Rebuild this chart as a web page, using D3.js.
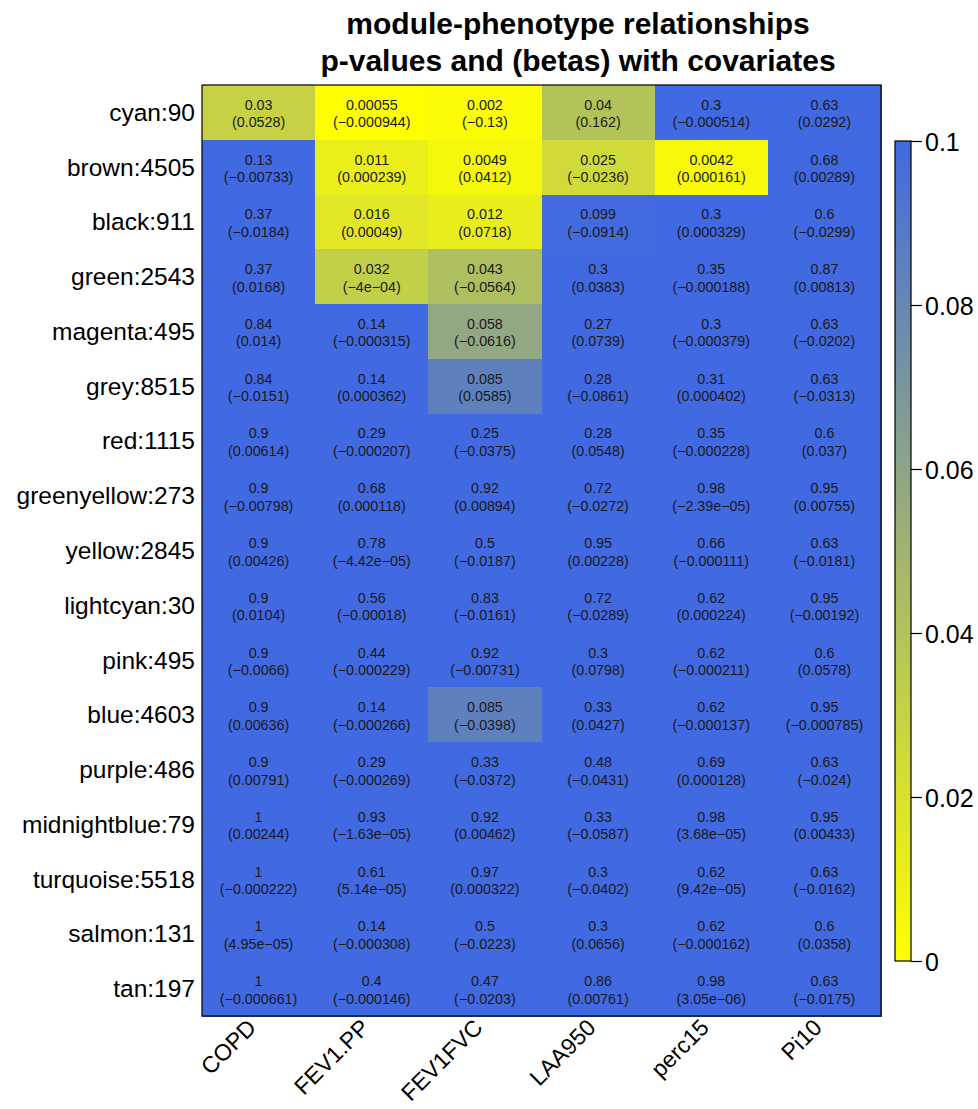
<!DOCTYPE html>
<html><head><meta charset="utf-8">
<script src="https://cdn.jsdelivr.net/npm/d3@7/dist/d3.min.js"></script>
<style>body{margin:0;background:#fff}svg{display:block}text{font-family:"Liberation Sans",Arial,sans-serif}</style>
</head><body><svg id="c" width="978" height="1109"></svg>
<script>
const modules = ["cyan:90","brown:4505","black:911","green:2543","magenta:495","grey:8515","red:1115","greenyellow:273","yellow:2845","lightcyan:30","pink:495","blue:4603","purple:486","midnightblue:79","turquoise:5518","salmon:131","tan:197"];
const traits = ["COPD","FEV1.PP","FEV1FVC","LAA950","perc15","Pi10"];
const pvals = [
 ["0.03","0.00055","0.002","0.04","0.3","0.63"],
 ["0.13","0.011","0.0049","0.025","0.0042","0.68"],
 ["0.37","0.016","0.012","0.099","0.3","0.6"],
 ["0.37","0.032","0.043","0.3","0.35","0.87"],
 ["0.84","0.14","0.058","0.27","0.3","0.63"],
 ["0.84","0.14","0.085","0.28","0.31","0.63"],
 ["0.9","0.29","0.25","0.28","0.35","0.6"],
 ["0.9","0.68","0.92","0.72","0.98","0.95"],
 ["0.9","0.78","0.5","0.95","0.66","0.63"],
 ["0.9","0.56","0.83","0.72","0.62","0.95"],
 ["0.9","0.44","0.92","0.3","0.62","0.6"],
 ["0.9","0.14","0.085","0.33","0.62","0.95"],
 ["0.9","0.29","0.33","0.48","0.69","0.63"],
 ["1","0.93","0.92","0.33","0.98","0.95"],
 ["1","0.61","0.97","0.3","0.62","0.63"],
 ["1","0.14","0.5","0.3","0.62","0.6"],
 ["1","0.4","0.47","0.86","0.98","0.63"]
];
const betas = [
 ["0.0528","−0.000944","−0.13","0.162","−0.000514","0.0292"],
 ["−0.00733","0.000239","0.0412","−0.0236","0.000161","0.00289"],
 ["−0.0184","0.00049","0.0718","−0.0914","0.000329","−0.0299"],
 ["0.0168","−4e−04","−0.0564","0.0383","−0.000188","0.00813"],
 ["0.014","−0.000315","−0.0616","0.0739","−0.000379","−0.0202"],
 ["−0.0151","0.000362","0.0585","−0.0861","0.000402","−0.0313"],
 ["0.00614","−0.000207","−0.0375","0.0548","−0.000228","0.037"],
 ["−0.00798","0.000118","0.00894","−0.0272","−2.39e−05","0.00755"],
 ["0.00426","−4.42e−05","−0.0187","0.00228","−0.000111","−0.0181"],
 ["0.0104","−0.00018","−0.0161","−0.0289","0.000224","−0.00192"],
 ["−0.0066","−0.000229","−0.00731","0.0798","−0.000211","0.0578"],
 ["0.00636","−0.000266","−0.0398","0.0427","−0.000137","−0.000785"],
 ["0.00791","−0.000269","−0.0372","−0.0431","0.000128","−0.024"],
 ["0.00244","−1.63e−05","0.00462","−0.0587","3.68e−05","0.00433"],
 ["−0.000222","5.14e−05","0.000322","−0.0402","9.42e−05","−0.0162"],
 ["4.95e−05","−0.000308","−0.0223","0.0656","−0.000162","0.0358"],
 ["−0.000661","−0.000146","−0.0203","0.00761","3.05e−06","−0.0175"]
];
const legendTicks = [0, 0.02, 0.04, 0.06, 0.08, 0.1];
const titleLines = ["module-phenotype relationships","p-values and (betas) with covariates"];

(function(){
const svg = d3.select("#c");
const pL = 202, pR = 881, pT = 85, pB = 1016;
const x = d3.scaleBand().domain(traits).range([pL, pR]);
const y = d3.scaleBand().domain(modules).range([pT, pB]);
const color = d3.scaleLinear().domain([0, 0.1]).range(["#ffff00", "#4169e1"]).clamp(true);

const cells = [];
modules.forEach((m, i) => traits.forEach((t, j) => cells.push({m, t, p: pvals[i][j], b: betas[i][j]})));

const g = svg.append("g");
g.selectAll("rect.cell").data(cells).join("rect").attr("class","cell")
  .attr("x", d => Math.round(x(d.t))).attr("y", d => Math.round(y(d.m)))
  .attr("width", d => Math.round(x(d.t)+x.bandwidth()) - Math.round(x(d.t)) + 1)
  .attr("height", d => Math.round(y(d.m)+y.bandwidth()) - Math.round(y(d.m)) + 1)
  .attr("shape-rendering","crispEdges")
  .attr("fill", d => color(+d.p));
const tg = g.selectAll("g.lab").data(cells).join("g").attr("class","lab")
  .attr("transform", d => `translate(${x(d.t)+x.bandwidth()/2},${y(d.m)+y.bandwidth()/2})`);
tg.append("text").attr("text-anchor","middle").attr("y",-2.5).attr("font-size",14.3).attr("fill","#1a1a1a").text(d => d.p);
tg.append("text").attr("text-anchor","middle").attr("y",15).attr("font-size",14.3).attr("fill","#1a1a1a").text(d => "(" + d.b + ")");
g.append("rect").attr("x",pL).attr("y",pT).attr("width",pR-pL).attr("height",pB-pT)
  .attr("fill","none").attr("stroke","#000").attr("stroke-width",1.2);

svg.append("g").selectAll("text").data(modules).join("text")
  .attr("x", pL - 7).attr("y", d => y(d) + y.bandwidth()/2 + 8.5)
  .attr("text-anchor","end").attr("font-size",24.5).attr("fill","#000").text(d => d);

svg.append("g").selectAll("text").data(traits).join("text")
  .attr("transform", d => `translate(${x(d)+x.bandwidth()/2-1},${pB+13}) rotate(-45)`)
  .attr("text-anchor","end").attr("font-size",23).attr("fill","#000").text(d => d);

svg.append("g").selectAll("text").data(titleLines).join("text")
  .attr("x", 578).attr("y", (d,i) => 34 + i*37)
  .attr("text-anchor","middle").attr("font-size",30).attr("font-weight","bold").attr("fill","#000").text(d => d);

const lx = 895, lw = 16, ly0 = 141, ly1 = 961;
const ly = d3.scaleLinear().domain([0, 0.1]).range([ly1, ly0]);
const defs = svg.append("defs");
const grad = defs.append("linearGradient").attr("id","gr").attr("x1",0).attr("y1",1).attr("x2",0).attr("y2",0);
grad.append("stop").attr("offset","0%").attr("stop-color",color(0));
grad.append("stop").attr("offset","100%").attr("stop-color",color(0.1));
svg.append("rect").attr("x",lx).attr("y",ly0).attr("width",lw).attr("height",ly1-ly0)
  .attr("fill","url(#gr)").attr("stroke","#000").attr("stroke-width",1.2);
const axis = d3.axisRight(ly).tickValues(legendTicks).tickSize(11).tickSizeOuter(0)
  .tickFormat(d => d === 0 ? "0" : String(+d.toFixed(2)));
const ag = svg.append("g").attr("transform",`translate(${lx+lw},0)`).call(axis);
ag.select(".domain").remove();
ag.selectAll("line").attr("stroke","#000").attr("stroke-width",1.2);
ag.selectAll("text").attr("font-size",25).attr("fill","#000").attr("x",14).attr("dy","0.36em")
  .attr("font-family","Liberation Sans, Arial, sans-serif");
})();
</script></body></html>
